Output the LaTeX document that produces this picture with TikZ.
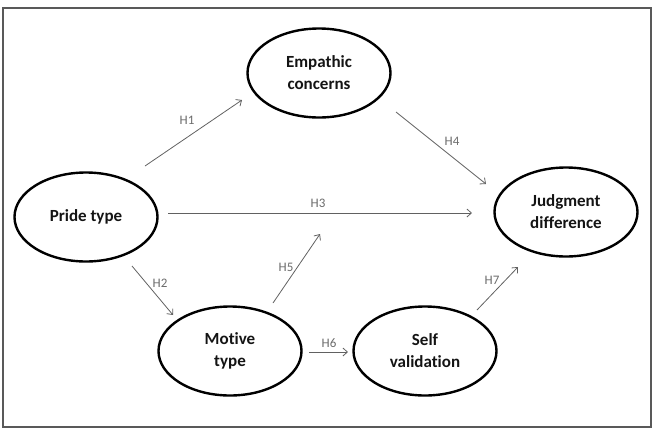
\documentclass[tikz,border=0pt]{standalone}
\usepackage{fontspec}
\setmainfont{Carlito}[Ligatures=NoCommon]
\usetikzlibrary{shapes.geometric,arrows.meta}
\begin{document}
\begin{tikzpicture}[x=1pt,y=-1pt,
  var/.style={draw=black, line width=2.4pt, ellipse, minimum width=143pt, minimum height=89pt,
    inner sep=0pt, align=center, text=black!92,
    font=\bfseries\fontsize{17}{22}\selectfont},
  hyp/.style={draw=black!62, line width=0.8pt, -{Straight Barb[length=4.5pt,width=8pt]}},
  hlab/.style={inner sep=0pt, text=black!58, font=\fontsize{13}{15}\selectfont}]
\useasboundingbox (0,0) rectangle (670,429);
\draw[black!65, line width=2pt] (3,8) rectangle (651,427);

\node[var] (emp) at (319,73) {Empathic\\concerns};
\node[var] (pride) at (86,217) {Pride type};
\node[var] (judg) at (566,212) {Judgment\\difference};
\node[var] (mot) at (230,351) {Motive\\type};
\node[var] (self) at (425,351) {Self\\validation};

\coordinate (h1s) at (145,166); \coordinate (h1e) at (242,100);
\coordinate (h4s) at (396,112); \coordinate (h4e) at (486,184);
\coordinate (h3s) at (168,213); \coordinate (h3e) at (472,213);
\coordinate (h2s) at (132,266); \coordinate (h2e) at (173,315);
\coordinate (h5s) at (273,303); \coordinate (h5e) at (320,234);
\coordinate (h6s) at (309,352); \coordinate (h6e) at (348,352);
\coordinate (h7s) at (477,310); \coordinate (h7e) at (518,267);

\draw[hyp] (h1s) -- (h1e);
\draw[hyp] (h4s) -- (h4e);
\draw[hyp] (h3s) -- (h3e);
\draw[hyp] (h2s) -- (h2e);
\draw[hyp] (h5s) -- (h5e);
\draw[hyp] (h6s) -- (h6e);
\draw[hyp] (h7s) -- (h7e);

\node[hlab] (l1) at (187,120) {H1};
\node[hlab] (l4) at (452,141) {H4};
\node[hlab] (l3) at (318,203) {H3};
\node[hlab] (l2) at (160,283) {H2};
\node[hlab] (l5) at (286,267) {H5};
\node[hlab] (l6) at (329,343) {H6};
\node[hlab] (l7) at (492,280) {H7};
\end{tikzpicture}
\end{document}
